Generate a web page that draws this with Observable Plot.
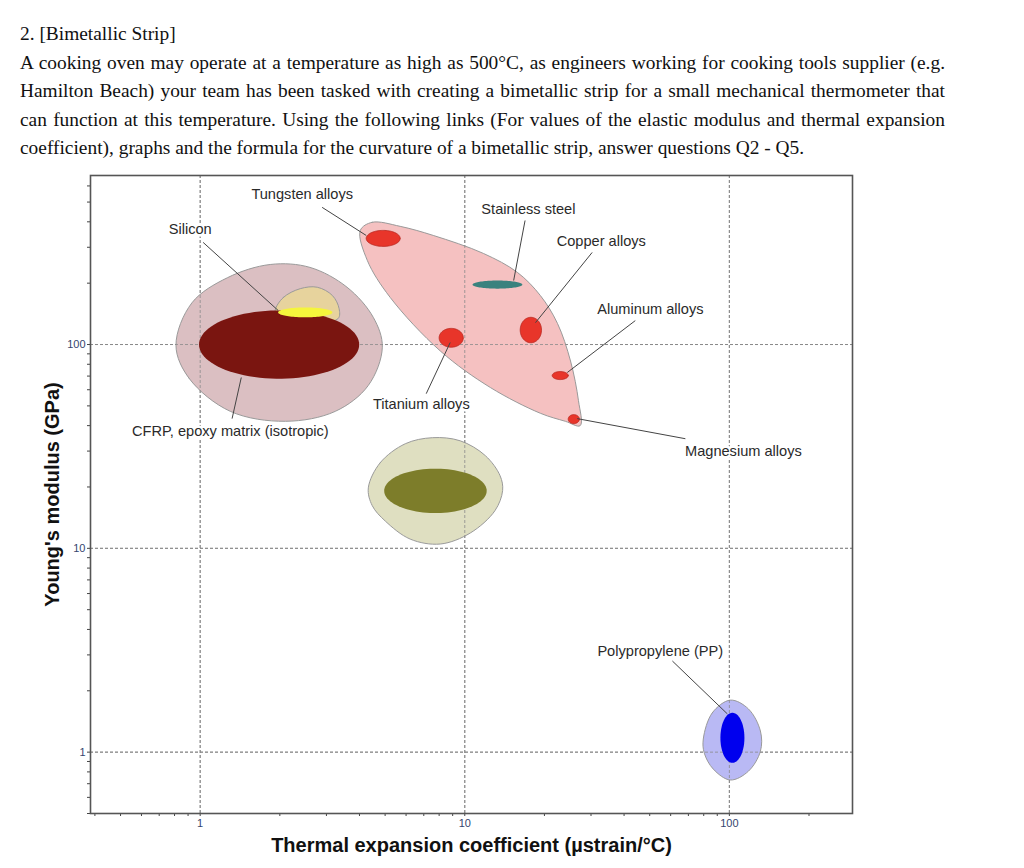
<!DOCTYPE html>
<html><head><meta charset="utf-8">
<script src="https://cdn.jsdelivr.net/npm/d3@7"></script>
<script src="https://cdn.jsdelivr.net/npm/@observablehq/plot@0.6"></script>
<style>
body{margin:0;background:#fff;}
#q{font-family:"Liberation Serif","Times New Roman",serif;font-size:19.4px;line-height:28.5px;color:#111;padding:20px 0 0 20px;height:145px;width:925px;white-space:nowrap}
#q .j{text-align:justify;text-align-last:justify}
#chart svg{display:block}
</style></head><body>
<div id="q">
<div>2. [Bimetallic Strip]</div>
<div class="j">A cooking oven may operate at a temperature as high as 500°C, as engineers working for cooking tools supplier (e.g.</div>
<div class="j">Hamilton Beach) your team has been tasked with creating a bimetallic strip for a small mechanical thermometer that</div>
<div class="j">can function at this temperature. Using the following links (For values of the elastic modulus and thermal expansion</div>
<div>coefficient), graphs and the formula for the curvature of a bimetallic strip, answer questions Q2 - Q5.</div>
</div>
<div id="chart"></div>
<script>
// ---- Data (x: thermal expansion, µstrain/°C ; y: Young's modulus, GPa) ----
const xDomain = [0.385, 292];
const yDomain = [0.5, 675];
const xMajor = [1, 10, 100];
const yMajor = [1, 10, 100];
const xMinor = [0.4,0.5,0.6,0.7,0.8,0.9,2,3,4,5,6,7,8,9,20,30,40,50,60,70,80,90,200];
const yMinor = [0.5,0.6,0.7,0.8,0.9,2,3,4,5,6,7,8,9,20,30,40,50,60,70,80,90,200,300,400,500,600];

// family envelopes (outline points)
const envComposite = [[0.81,99],[0.91,68],[1.30,47],[2.10,42],[3.24,47],[4.32,63],[4.88,97],[4.51,136],[3.59,191],[2.6,239],[1.84,247],[1.27,213],[0.93,160]];
const envMetals = [[4.03,363],[4.47,398],[5.70,380],[7.60,343],[11.75,280],[15.8,226],[19.3,174],[22.4,127],[25.1,83],[26.9,53],[27.3,40],[24.0,42],[19.3,46],[12.5,61.5],[8.08,93],[5.23,170],[4.28,259]];
const envSilicon = [[1.92,147],[2.06,170],[2.39,188],[2.77,191],[3.16,174],[3.35,150],[3.32,134],[2.49,128],[1.95,136]];
const envOlive = [[4.32,19.8],[4.79,26.3],[5.96,32.6],[7.54,34.9],[9.61,33.7],[11.96,28.5],[13.6,22.7],[13.9,19.2],[13.0,15.3],[10.5,11.9],[8.08,10.5],[6.22,11.1],[5.01,13.6],[4.47,16.2]];
const envPP = [[79.7,1.16],[86.2,1.56],[100.9,1.80],[118,1.63],[131,1.27],[131,1.01],[118,0.806],[100.9,0.730],[87,0.825],[80.4,0.989]];

// material property ranges [xmin,xmax],[ymin,ymax]
const materials = ["CFRP","Silicon","Tungsten","Stainless","Copper","Titanium","Aluminum","Magnesium","Olive","PP"];
const xRanges = [[0.99,3.99],[1.97,3.16],[4.24,5.70],[10.7,16.5],[16.2,19.5],[8.0,9.87],[21.4,24.6],[24.6,27.1],[4.96,12.1],[92.5,114]];
const yRanges = [[68,147],[136,152],[303,363],[188,206],[102,136],[97,120],[67.3,73.7],[40.9,45.3],[14.9,24.6],[0.886,1.56]];
const fills = ["#7a1510","#f5f53c","#e8352a","#3a827e","#e8352a","#e8352a","#e8352a","#e8352a","#7d7d2a","#0000ee"];
const strokes = ["none","none","#b8261e","none","#b8261e","#b8261e","#b8261e","#b8261e","none","none"];

// labels and leader lines
const labelText = ["Tungsten alloys","Silicon","CFRP, epoxy matrix (isotropic)","Titanium alloys","Stainless steel","Copper alloys","Aluminum alloys","Magnesium alloys","Polypropylene (PP)"];
const labelX = [2.43,0.917,1.30,6.85,17.4,32.8,50.3,113,54.8];
const labelY = [546,367,37.4,50.7,461,321,148.6,29.8,3.14];
const leadX1 = [2.89,1.026,1.43,8.81,16.9,30.3,44.1,26.6,60.9];
const leadY1 = [471,317,68.9,102.3,406,283,131,43.3,2.80];
const leadX2 = [4.24,1.97,1.32,7.15,15.3,18.5,24.4,68.2,98.3];
const leadY2 = [343,147,43.3,57.4,206,128,72.9,34.5,1.54];

// ---- build ----
function ellipsePts([x0,x1],[y0,y1]){
  const cx=(Math.log10(x0)+Math.log10(x1))/2, rx=(Math.log10(x1)-Math.log10(x0))/2;
  const cy=(Math.log10(y0)+Math.log10(y1))/2, ry=(Math.log10(y1)-Math.log10(y0))/2;
  return d3.range(90).map(i=>{const t=2*Math.PI*i/90;return [10**(cx+rx*Math.cos(t)),10**(cy+ry*Math.sin(t))];});
}
const env = (pts, fill) => Plot.line(pts, {curve:"catmull-rom-closed", fill, stroke:"#9a9a9a", strokeWidth:1});
const leaders = labelText.map((t,i)=>({x1:leadX1[i],y1:leadY1[i],x2:leadX2[i],y2:leadY2[i]}));
const labels = labelText.map((t,i)=>({t,x:labelX[i],y:labelY[i]}));

const ellMarks = materials.map((m,i)=>Plot.line(ellipsePts(xRanges[i],yRanges[i]),{curve:"linear-closed",fill:fills[i],stroke:strokes[i],strokeWidth:0.8}));

const chart = Plot.plot({
  width:1024, height:703,
  marginLeft:90, marginRight:172, marginTop:10, marginBottom:55,
  style:{fontFamily:"'Liberation Sans', Arial, sans-serif", background:"#fff"},
  x:{type:"log", domain:xDomain},
  y:{type:"log", domain:yDomain},
  marks:[
    Plot.gridX(xMajor,{stroke:"#8a8a8a",strokeOpacity:1,strokeDasharray:"3,2"}),
    Plot.gridY(yMajor,{stroke:"#8a8a8a",strokeOpacity:1,strokeDasharray:"3,2"}),
    env(envComposite,"#dbbfc2"),
    env(envMetals,"#f5c1c1"),
    env(envOlive,"#dfdfc1"),
    env(envPP,"#b9b9f4"),
    env(envSilicon,"#e7d39d"),
    Plot.gridX(xMajor,{stroke:"#8a8a8a",strokeOpacity:0.8,strokeDasharray:"3,2"}),
    Plot.gridY(yMajor,{stroke:"#8a8a8a",strokeOpacity:0.8,strokeDasharray:"3,2"}),
    ...ellMarks,
    Plot.link(leaders,{x1:"x1",y1:"y1",x2:"x2",y2:"y2",stroke:"#444",strokeWidth:1}),
    Plot.text(labels,{x:"x",y:"y",text:"t",fontSize:14.6,fill:"#2a2a2a",stroke:"#ffffff",strokeWidth:5,paintOrder:"stroke",textAnchor:"middle",lineAnchor:"middle"}),
    Plot.axisX(xMinor,{tickSize:3,tickFormat:()=>"",stroke:"#444"}),
    Plot.axisY(yMinor,{tickSize:3,tickFormat:()=>"",stroke:"#444"}),
    Plot.axisX(xMajor,{tickSize:3,tickPadding:3,fontSize:11,fill:"#35456e",stroke:"#444",tickFormat:d=>String(d)}),
    Plot.axisY(yMajor,{tickSize:3,tickPadding:2,fontSize:11,fill:"#35456e",stroke:"#444",tickFormat:d=>String(d)}),
    Plot.frame({stroke:"#555",strokeWidth:1.6}),
    Plot.text(["Thermal expansion coefficient (µstrain/°C)"],{frameAnchor:"bottom",dy:32,lineAnchor:"middle",textAnchor:"middle",fontSize:20,fontWeight:"bold",fill:"#111"}),
    Plot.text(["Young's modulus (GPa)"],{frameAnchor:"left",dx:-38,rotate:-90,lineAnchor:"middle",textAnchor:"middle",fontSize:20,fontWeight:"bold",fill:"#111"})
  ]
});
document.getElementById("chart").appendChild(chart);
</script>
</body></html>
